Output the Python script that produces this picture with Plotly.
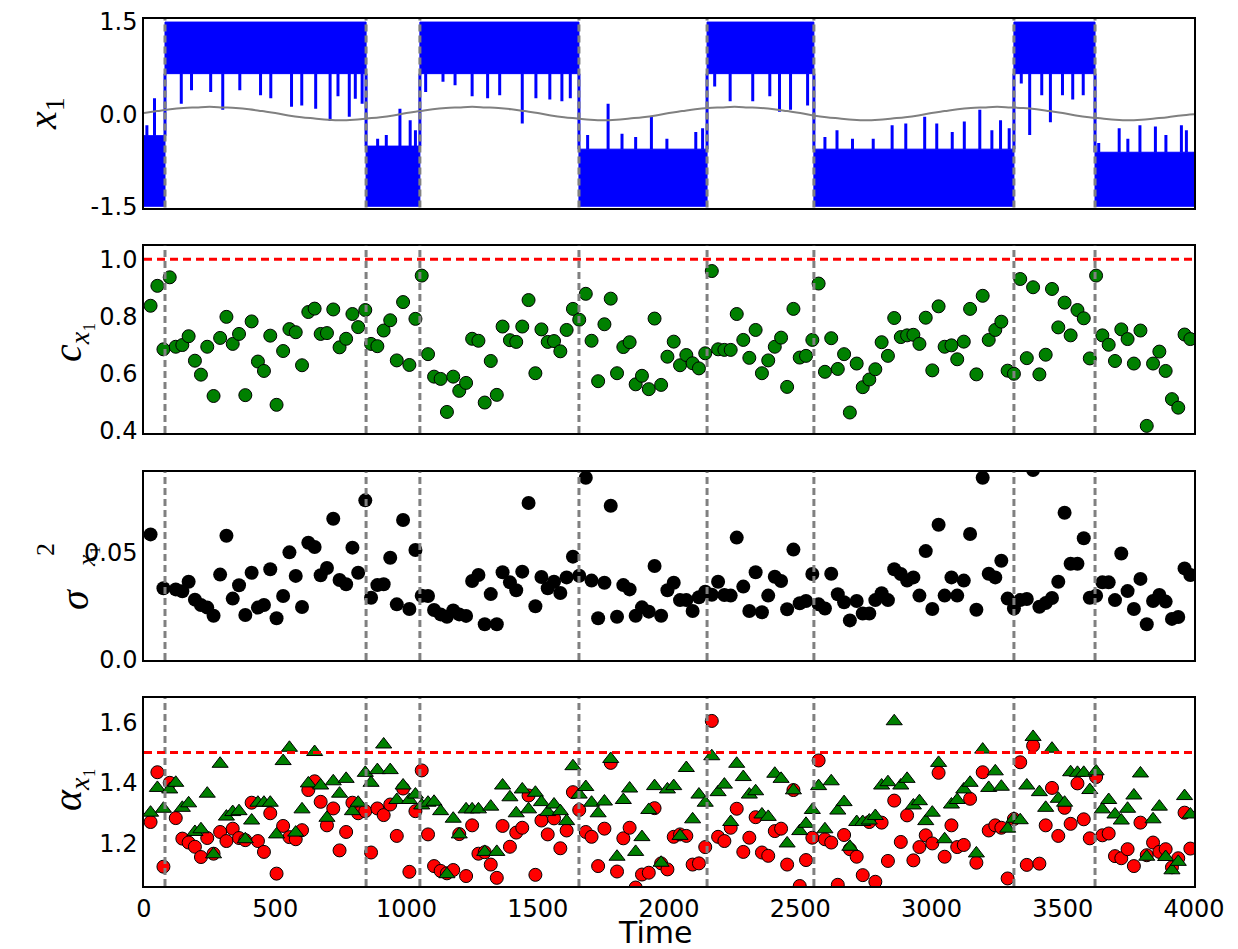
import plotly.graph_objects as go
import bisect

# ---------------- data ----------------
time_windows = [25, 51, 74, 98, 121, 146, 170, 194, 217, 241, 265, 290, 314, 338, 362, 386, 410, 434, 457, 481,
                505, 530, 554, 578, 602, 626, 650, 673, 697, 721, 745, 770, 794, 816, 843, 865, 889, 913, 938, 963,
                987, 1011, 1034, 1058, 1082, 1105, 1130, 1154, 1178, 1201, 1227, 1250, 1274, 1298, 1321, 1344,
                1366, 1394, 1418, 1441, 1465, 1491, 1514, 1538, 1562, 1586, 1610, 1634, 1658, 1683, 1705, 1730,
                1754, 1778, 1802, 1826, 1850, 1873, 1897, 1923, 1945, 1970, 1994, 2018, 2042, 2066, 2090, 2114,
                2138, 2163, 2187, 2211, 2235, 2258, 2283, 2306, 2330, 2354, 2378, 2403, 2427, 2450, 2474, 2498,
                2522, 2546, 2570, 2594, 2618, 2643, 2667, 2689,
                2715, 2738, 2763, 2786, 2810, 2834, 2858, 2883, 2907, 2931, 2954, 2978, 3003, 3027, 3050, 3076,
                3098, 3123, 3147, 3171, 3195, 3218, 3243, 3266, 3290, 3314, 3338, 3363, 3387, 3411, 3435, 3459,
                3483, 3507, 3530, 3556, 3580, 3603, 3627, 3651, 3675, 3699, 3723, 3747, 3771, 3796, 3820, 3844,
                3868, 3892, 3916, 3940, 3964, 3986]

c_x1 = [0.837, 0.907, 0.684, 0.937, 0.693, 0.699, 0.730, 0.644, 0.595, 0.693,
        0.520, 0.724, 0.798, 0.703, 0.738, 0.523, 0.782, 0.641, 0.608, 0.732,
        0.489, 0.678, 0.755, 0.744, 0.628, 0.815, 0.827, 0.738, 0.741, 0.824,
        0.691, 0.721, 0.808, 0.762, 0.822, 0.703, 0.695, 0.750, 0.786, 0.645,
        0.850, 0.629, 0.791, 0.943, 0.667, 0.588, 0.580, 0.464, 0.588, 0.538,
        0.566, 0.721, 0.714, 0.497, 0.643, 0.524,
        0.764, 0.716, 0.710, 0.764, 0.857, 0.600, 0.754, 0.710, 0.713, 0.677,
        0.752, 0.826, 0.788, 0.879, 0.714, 0.572, 0.772, 0.862, 0.600, 0.692,
        0.709, 0.561, 0.591, 0.544, 0.792, 0.559, 0.658, 0.711, 0.628, 0.664,
        0.635, 0.617, 0.670, 0.959, 0.684, 0.682, 0.682, 0.808, 0.717, 0.654,
        0.752, 0.600, 0.645, 0.693, 0.725, 0.552, 0.826, 0.655, 0.661, 0.717,
        0.915, 0.605, 0.723, 0.615, 0.667, 0.462,
        0.634, 0.551, 0.578, 0.614, 0.709, 0.661, 0.794, 0.727, 0.733, 0.735,
        0.703, 0.795, 0.610, 0.835, 0.693, 0.698, 0.649, 0.711, 0.826, 0.596,
        0.872, 0.717, 0.752, 0.781, 0.609, 0.598, 0.931, 0.653, 0.902, 0.596,
        0.665, 0.896, 0.761, 0.848, 0.733, 0.822, 0.793, 0.652, 0.943, 0.733,
        0.700, 0.643, 0.754, 0.720, 0.634, 0.750, 0.415, 0.634, 0.676, 0.608,
        0.509, 0.479, 0.736, 0.720]

sigma2_x1 = [0.0587, None, 0.0335, None, 0.0330, 0.0321, 0.0366, 0.0282, 0.0257, 0.0245,
             0.0207, 0.0399, 0.0581, 0.0287, 0.0349, 0.0210, 0.0408, 0.0245, 0.0257, 0.0424,
             0.0195, 0.0299, 0.0503, 0.0393, 0.0248, 0.0548, 0.0528, 0.0396, 0.0430, 0.0660,
             0.0374, 0.0354, 0.0525, 0.0408, 0.0746, 0.0291, 0.0350, 0.0354, 0.0478, 0.0260,
             0.0654, 0.0238, 0.0514, 0.0300, 0.0299, 0.0234, 0.0213, 0.0202, 0.0231, 0.0213,
             0.0206, 0.0369, 0.0397, 0.0167, 0.0308, 0.0167,
             0.0410, 0.0363, 0.0326, 0.0413, 0.0734, 0.0251, 0.0388, 0.0335, 0.0366, 0.0313,
             0.0386, 0.0483, 0.0394, 0.0852, 0.0371, 0.0195, 0.0361, 0.0721, 0.0202, 0.0350,
             0.0330, 0.0207, 0.0246, 0.0226, 0.0439, 0.0207, 0.0326, 0.0361, 0.0280, 0.0280,
             0.0229, 0.0293, 0.0319, 0.0305, 0.0366, 0.0304, 0.0301, 0.0572, 0.0343, 0.0229,
             0.0410, 0.0223, 0.0301, 0.0389, 0.0369, 0.0237, 0.0516, 0.0265, 0.0276, 0.0402,
             0.0260, 0.0241, 0.0403, 0.0307, 0.0270, 0.0185,
             0.0276, 0.0217, 0.0217, 0.0280, 0.0312, 0.0280, 0.0424, 0.0402, 0.0371, 0.0386,
             0.0301, 0.0509, 0.0238, 0.0632, 0.0301, 0.0386, 0.0301, 0.0371, 0.0589, 0.0235,
             0.0852, 0.0403, 0.0386, 0.0464, 0.0287, 0.0241, 0.0280, 0.0285, 0.0888, 0.0249,
             0.0266, 0.0290, 0.0366, 0.0688, 0.0450, 0.0450, 0.0569, 0.0291, 0.0300, 0.0363,
             0.0363, 0.0280, 0.0498, 0.0322, 0.0238, 0.0379, 0.0167, 0.0276, 0.0304, 0.0273,
             0.0192, 0.0201, 0.0428, 0.0397]

alpha_red = [1.270, 1.435, 1.122, 1.400, 1.283, 1.215, 1.202, 1.188, 1.154, 1.217,
             1.165, 1.237, 1.207, 1.248, 1.217, 1.210, 1.334, 1.207, 1.171, 1.299,
             1.099, 1.257, 1.220, 1.213, 1.243, 1.376, 1.405, 1.337, 1.259, 1.315,
             1.176, 1.237, 1.334, 1.299, 1.306, 1.169, 1.315, 1.293, 1.328, 1.224,
             1.381, 1.105, 1.306, 1.441, 1.229, 1.124, 1.108, 1.100, 1.111, 1.230,
             1.091, 1.259, 1.165, 1.170, 1.129, 1.085,
             1.257, 1.188, 1.235, 1.251, 1.358, 1.095, 1.275, 1.229, 1.282, 1.183,
             1.242, 1.369, 1.310, 1.237, 1.221, 1.124, 1.248, 1.466, 1.106, 1.216,
             1.251, 1.053, 1.096, 1.102, 1.316, 1.133, 1.113, 1.221, 1.229, 1.224,
             1.129, 1.133, 1.187, 1.605, 1.221, 1.207, 1.251, 1.314, 1.171, 1.218,
             1.286, 1.169, 1.158, 1.240, 1.248, 1.129, 1.376, 1.058, 1.144, 1.218,
             1.474, 1.213, 1.202, 1.062, 1.227, 1.180,
             1.155, 1.094, 1.270, 1.072, 1.268, 1.141, 1.341, 1.204, 1.292, 1.143,
             1.187, 1.226, 1.199, 1.433, 1.155, 1.259, 1.187, 1.194, 1.347, 1.135,
             1.435, 1.242, 1.259, 1.251, 1.083, 1.280, 1.468, 1.128, 1.523, 1.132,
             1.259, 1.383, 1.224, 1.317, 1.264, 1.398, 1.279, 1.216, 1.419, 1.226,
             1.232, 1.157, 1.150, 1.180, 1.124, 1.268, 1.160, 1.202, 1.171, 1.180,
             1.120, 1.150, 1.301, 1.182]

alpha_green = [1.301, 1.383, 1.314, 1.378, 1.400, 1.317, 1.332, 1.237, 1.246, 1.364,
               1.163, 1.463, 1.288, 1.303, 1.306, 1.213, 1.275, 1.334, 1.334, 1.334,
               1.229, 1.472, 1.516, 1.235, 1.312, 1.398, 1.502, 1.391, 1.284, 1.405,
               1.364, 1.413, 1.306, 1.334, 1.433, 1.400, 1.442, 1.527, 1.442, 1.343,
               1.391, 1.343, 1.361, 1.325, 1.334, 1.337, 1.306, 1.097, 1.281, 1.229,
               1.312, 1.312, 1.312, 1.171, 1.321, 1.171,
               1.391, 1.352, 1.299, 1.378, 1.312, 1.367, 1.336, 1.303, 1.328, 1.306,
               1.273, 1.455, 1.361, 1.386, 1.334, 1.299, 1.338, 1.479, 1.155, 1.343,
               1.381, 1.171, 1.220, 1.310, 1.389, 1.135, 1.378, 1.389, 1.224, 1.449,
               1.279, 1.361, 1.334, 1.488, 1.369, 1.394, 1.270, 1.463, 1.419, 1.361,
               1.372, 1.295, 1.287, 1.430, 1.413, 1.199, 1.375, 1.240, 1.264, 1.310,
               1.389, 1.246, 1.405, 1.308, 1.336, 1.188,
               1.270, 1.270, 1.275, 1.290, 1.391, 1.402, 1.604, 1.391, 1.413, 1.325,
               1.339, 1.273, 1.301, 1.466, 1.213, 1.328, 1.343, 1.378, 1.400, 1.166,
               1.510, 1.383, 1.438, 1.387, 1.248, 1.281, 1.276, 1.391, 1.552, 1.369,
               1.317, 1.513, 1.347, 1.334, 1.435, 1.433, 1.433, 1.376, 1.438, 1.312,
               1.343, 1.295, 1.275, 1.314, 1.358, 1.431, 1.155, 1.279, 1.321, 1.154,
               1.110, 1.138, 1.356, 1.295]

# regime switches of x1 (grey dashed lines)
transitions = [80, 846, 1051, 1657, 2145, 2552, 3314, 3623]
regime_edges = [0, 80, 846, 1051, 1657, 2145, 2552, 3314, 3623, 4000]
band_bottom = [-1.50, 0.66, -1.50, 0.66, -1.50, 0.66, -1.50, 0.66, -1.50]
band_top = [-0.35, 1.50, -0.52, 1.50, -0.57, 1.50, -0.57, 1.50, -0.62]

# excursions of the noisy trajectory out of its band (time, tip value)
spike_t = [11, 40,
           142, 181, 254, 300, 365, 444, 483, 562, 601, 654, 709, 739, 782, 805, 831,
           890, 923, 975, 1014, 1034,
           1073, 1139, 1185, 1250, 1309, 1355, 1441, 1493, 1546, 1592, 1624,
           1690, 1768, 1821, 1873, 1933, 1992, 2102, 2128,
           2174, 2233, 2319, 2384, 2421, 2463, 2528,
           2594, 2640, 2699, 2778, 2850, 2902, 2974, 3020, 3079, 3125, 3184, 3230, 3263, 3296,
           3342, 3374, 3420, 3453, 3499, 3538, 3578,
           3637, 3715, 3748, 3794, 3853, 3893, 3952, 3971]
spike_v = [-0.18, 0.26,
           0.17, 0.39, 0.36, 0.07, 0.39, 0.31, 0.26, 0.12, 0.14, 0.09, -0.11, 0.29, -0.04, 0.25, 0.17,
           -0.40, -0.34, 0.09, -0.10, -0.26,
           0.36, 0.53, 0.47, 0.29, 0.26, 0.31, -0.15, 0.26, 0.24, 0.21, 0.26,
           -0.34, 0.17, -0.32, -0.37, -0.04, -0.40, -0.29, -0.23,
           0.45, 0.21, 0.21, 0.29, 0.04, 0.07, 0.14,
           -0.37, -0.26, -0.40, -0.40, -0.18, -0.15, -0.04, -0.15, -0.29, -0.12, 0.07, -0.26, -0.10, -0.23,
           0.50, -0.34, 0.31, -0.13, 0.31, 0.24, 0.31,
           -0.47, -0.23, -0.40, -0.18, -0.20, -0.34, -0.18, -0.26]

# slow periodic forcing (grey curve)
forcing_t = [0, 50, 100, 150, 200, 250, 300, 350, 400, 450, 500, 550, 600, 650, 700, 750, 800, 850, 900, 950,
             1000, 1050, 1100, 1150, 1200, 1250, 1300, 1350, 1400, 1450, 1500, 1550, 1600, 1650, 1700, 1750,
             1800, 1850, 1900, 1950, 2000, 2050, 2100, 2150, 2200, 2250, 2300, 2350, 2400, 2450, 2500, 2550,
             2600, 2650, 2700, 2750, 2800, 2850, 2900, 2950, 3000, 3050, 3100, 3150, 3200, 3250, 3300, 3350,
             3400, 3450, 3500, 3550, 3600, 3650, 3700, 3750, 3800, 3850, 3900, 3950, 4000]
forcing_v = [0.02, 0.05, 0.08, 0.10, 0.11, 0.12, 0.11, 0.10, 0.08, 0.05, 0.02, -0.02, -0.05, -0.07, -0.09, -0.10, -0.09, -0.07, -0.05, -0.02,
             0.02, 0.05, 0.08, 0.10, 0.11, 0.12, 0.11, 0.10, 0.08, 0.05, 0.02, -0.02, -0.05, -0.07, -0.09, -0.10, -0.09, -0.07, -0.05, -0.02,
             0.02, 0.05, 0.08, 0.10, 0.11, 0.12, 0.11, 0.10, 0.08, 0.05, 0.02, -0.02, -0.05, -0.07, -0.09, -0.10, -0.09, -0.07, -0.05, -0.02,
             0.02, 0.05, 0.08, 0.10, 0.11, 0.12, 0.11, 0.10, 0.08, 0.05, 0.02, -0.02, -0.05, -0.07, -0.09, -0.10, -0.09, -0.07, -0.05, -0.02,
             0.00]

c_threshold = 1.0
alpha_threshold = 1.5
x_ticks = [0, 500, 1000, 1500, 2000, 2500, 3000, 3500, 4000]

# ---------------- figure ----------------
# the page body has an 8px margin, so the figure is drawn 8px smaller and offset
OFF = 8
W, H = 1238 - OFF, 949 - OFF
ML, MR, MT, MB = 144 - OFF, 44, 19 - OFF, 63
PH = H - MT - MB
PW = W - ML - MR


def ydom(top_px, bot_px):
    return [(949 - MB - bot_px) / PH, (949 - MB - top_px) / PH]


def xp(px):
    return (px - 144) / PW


def yp(py):
    return (949 - MB - py) / PH


fig = go.Figure()

# panel 1: trajectory bands, excursions, forcing
bx, by = [], []
for i in range(len(band_top)):
    a, b = regime_edges[i], regime_edges[i + 1]
    bx += [a, b, b, a, a, None]
    by += [band_bottom[i], band_bottom[i], band_top[i], band_top[i], band_bottom[i], None]
fig.add_trace(go.Scatter(x=bx, y=by, mode="lines", fill="toself", fillcolor="#0000ff",
                         line=dict(color="#0000ff", width=1), xaxis="x", yaxis="y", hoverinfo="skip"))
sx, sy = [], []
for t, v in zip(spike_t, spike_v):
    k = min(bisect.bisect_right(regime_edges, t) - 1, len(band_top) - 1)
    base = band_bottom[k] if band_bottom[k] > 0 else band_top[k]
    sx += [t, t, None]
    sy += [base, v, None]
for k, t in enumerate(transitions):
    sx += [t, t, None]
    sy += [band_top[k] if band_bottom[k] < 0 else band_bottom[k],
           band_top[k + 1] if band_bottom[k + 1] < 0 else band_bottom[k + 1], None]
fig.add_trace(go.Scatter(x=sx, y=sy, mode="lines", line=dict(color="#0000ff", width=3),
                         xaxis="x", yaxis="y", hoverinfo="skip"))
fig.add_trace(go.Scatter(x=forcing_t, y=forcing_v, mode="lines", line=dict(color="#808080", width=2, shape="spline"),
                         xaxis="x", yaxis="y"))

# panel 2
fig.add_trace(go.Scatter(x=time_windows, y=c_x1, mode="markers", xaxis="x2", yaxis="y2",
                         marker=dict(size=13, color="#008000", line=dict(color="black", width=1))))
# panel 3
fig.add_trace(go.Scatter(x=time_windows, y=sigma2_x1, mode="markers", xaxis="x3", yaxis="y3",
                         marker=dict(size=14, color="black", line=dict(color="black", width=0))))
# panel 4
fig.add_trace(go.Scatter(x=time_windows, y=alpha_red, mode="markers", xaxis="x4", yaxis="y4",
                         marker=dict(size=13, color="#ff0000", line=dict(color="black", width=1))))
fig.add_trace(go.Scatter(x=time_windows, y=alpha_green, mode="markers", xaxis="x4", yaxis="y4",
                         marker=dict(size=14, symbol="triangle-up", color="#008000", line=dict(color="black", width=1))))

shapes = []
for ax in ["", "2", "3", "4"]:
    for t in transitions:
        shapes.append(dict(type="line", xref="x" + ax, yref=("y" + ax + " domain"), x0=t, x1=t, y0=0, y1=1,
                           line=dict(color="#808080", width=3, dash="7px,4px"), layer="above"))
shapes.append(dict(type="line", xref="x2 domain", yref="y2", x0=0, x1=1, y0=c_threshold, y1=c_threshold,
                   line=dict(color="#ff0000", width=3, dash="8px,5px"), layer="above"))
shapes.append(dict(type="line", xref="x4 domain", yref="y4", x0=0, x1=1, y0=alpha_threshold, y1=alpha_threshold,
                   line=dict(color="#ff0000", width=3, dash="8px,5px"), layer="above"))

tickfont = dict(family="DejaVu Sans", size=24, color="black")
axcommon = dict(showline=True, mirror=True, linecolor="black", linewidth=1.5, showgrid=False,
                zeroline=False, ticks="", tickfont=tickfont)

layout = dict(width=W, height=H, margin=dict(l=ML, r=MR, t=MT, b=MB, autoexpand=False),
              paper_bgcolor="white", plot_bgcolor="white", showlegend=False, shapes=shapes)
doms = [ydom(19, 207.5), ydom(245.7, 433), ydom(471.7, 660), ydom(698, 886)]
yranges = [[-1.52, 1.55], [0.39, 1.048], [0.0, 0.088], [1.058, 1.681]]
ytv = [[-1.5, 0.0, 1.5], [0.4, 0.6, 0.8, 1.0], [0.0, 0.05], [1.2, 1.4, 1.6]]
ytt = [["-1.5", "0.0", "1.5"], ["0.4", "0.6", "0.8", "1.0"], ["0.0", "0.05"], ["1.2", "1.4", "1.6"]]
for i, ax in enumerate(["", "2", "3", "4"]):
    layout["xaxis" + ax] = dict(axcommon, domain=[0, 1], range=[0, 4000], anchor="y" + ax,
                                tickvals=x_ticks, showticklabels=(ax == "4"))
    layout["yaxis" + ax] = dict(axcommon, domain=doms[i], range=yranges[i], anchor="x" + ax,
                                tickvals=ytv[i], ticktext=ytt[i])
fig.update_layout(**layout)

mfont = dict(family="Liberation Serif", size=40, color="black")
ann = [
    dict(text="<i>x</i><sub>1</sub>", x=xp(45), y=yp(114)),
    dict(text="<i>c</i><sub><i>x</i>₁</sub>", x=xp(70), y=yp(342)),
    dict(text="<i>σ</i>", x=xp(74), y=yp(600)),
    dict(text="2", x=xp(45), y=yp(550), size=26),
    dict(text="<i>x</i>₁", x=xp(86), y=yp(556), size=26),
    dict(text="<i>α</i><sub><i>x</i>₁</sub>", x=xp(70), y=yp(790)),
]
annotations = []
for a in ann:
    f = dict(mfont)
    if "size" in a:
        f["size"] = a.pop("size")
    annotations.append(dict(a, xref="paper", yref="paper", showarrow=False, textangle=-90,
                            xanchor="center", yanchor="middle", font=f))
annotations.append(dict(text="Time", x=xp(655), y=yp(932), xref="paper", yref="paper", showarrow=False,
                        xanchor="center", yanchor="middle", font=dict(family="DejaVu Sans", size=30, color="black")))
fig.update_layout(annotations=annotations)

fig.write_html("out.html")
